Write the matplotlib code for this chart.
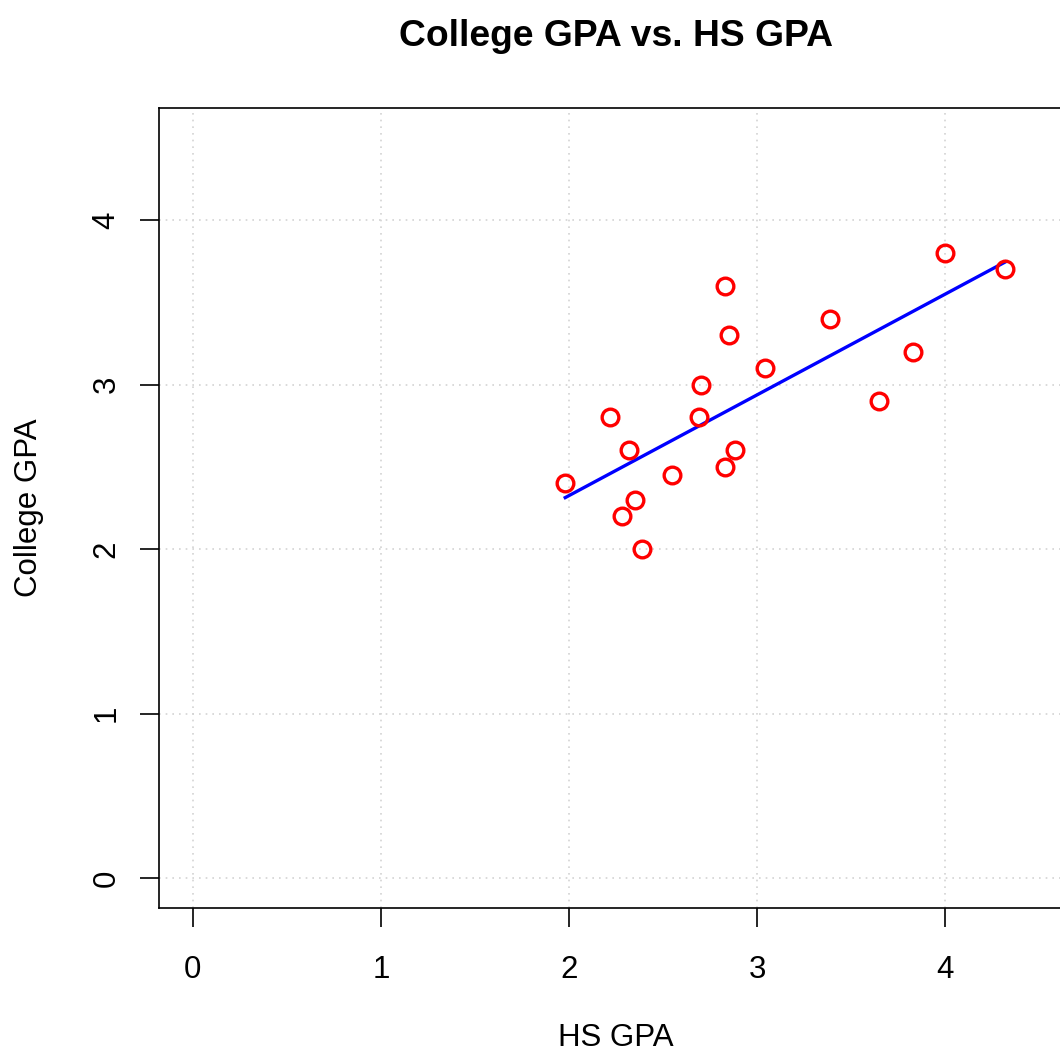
#!/usr/bin/env python3
"""College GPA vs. HS GPA scatter with a least-squares line (R base-graphics look)."""
import matplotlib
matplotlib.use("Agg")
import matplotlib.pyplot as plt
import numpy as np

# ── Data ───────────────────────────────────────────────────────────────────
hs_gpa = [1.98, 2.22, 2.32, 2.28, 2.35, 2.39, 2.55, 2.69, 2.70, 2.83,
          2.85, 2.83, 2.88, 3.04, 3.39, 3.65, 3.83, 4.00, 4.32]
college_gpa = [2.40, 2.80, 2.60, 2.20, 2.30, 2.00, 2.45, 2.80, 3.00, 3.60,
               3.30, 2.50, 2.60, 3.10, 3.40, 2.90, 3.20, 3.80, 3.70]
ticks = [0, 1, 2, 3, 4]

x = np.array(hs_gpa)
y = np.array(college_gpa)
slope, intercept = np.polyfit(x, y, 1)
x_line = np.array([x.min(), x.max()])

# ── Plot ───────────────────────────────────────────────────────────────────
plt.rcParams.update({
    "font.family": ["Liberation Sans", "DejaVu Sans"],
    "font.size": 22.5,
})

fig = plt.figure(figsize=(10.6, 10.55), dpi=100)
ax = fig.add_axes([0.15, 0.1393, 0.8623, 0.7583])

ax.grid(True, color="#d3d3d3", linestyle=(0, (1, 3)), linewidth=1.2)
ax.set_axisbelow(True)

ax.plot(x_line, intercept + slope * x_line, color="#0000ff", linewidth=2.4,
        zorder=3)
ax.plot(x, y, linestyle="none", marker="o", markersize=12,
        markerfacecolor="none", markeredgecolor="#ff0000",
        markeredgewidth=2.4, zorder=4)

ax.set_xlim(-0.18, 4.68)
ax.set_ylim(-0.18, 4.68)
ax.set_xticks(ticks)
ax.set_yticks(ticks)
ax.tick_params(direction="out", length=14, width=1.2)
ax.tick_params(axis="x", pad=20)
ax.tick_params(axis="y", pad=13)
for lab in ax.get_yticklabels():
    lab.set_rotation(90)
    lab.set_va("center")

for s in ax.spines.values():
    s.set_linewidth(1.2)

ax.set_xlabel("HS GPA", labelpad=27)
ax.set_ylabel("College GPA", labelpad=34.5)
ax.set_title("College GPA vs. HS GPA", pad=45, fontsize=26.8, fontweight="bold")

fig.savefig("out.png", dpi=100)
